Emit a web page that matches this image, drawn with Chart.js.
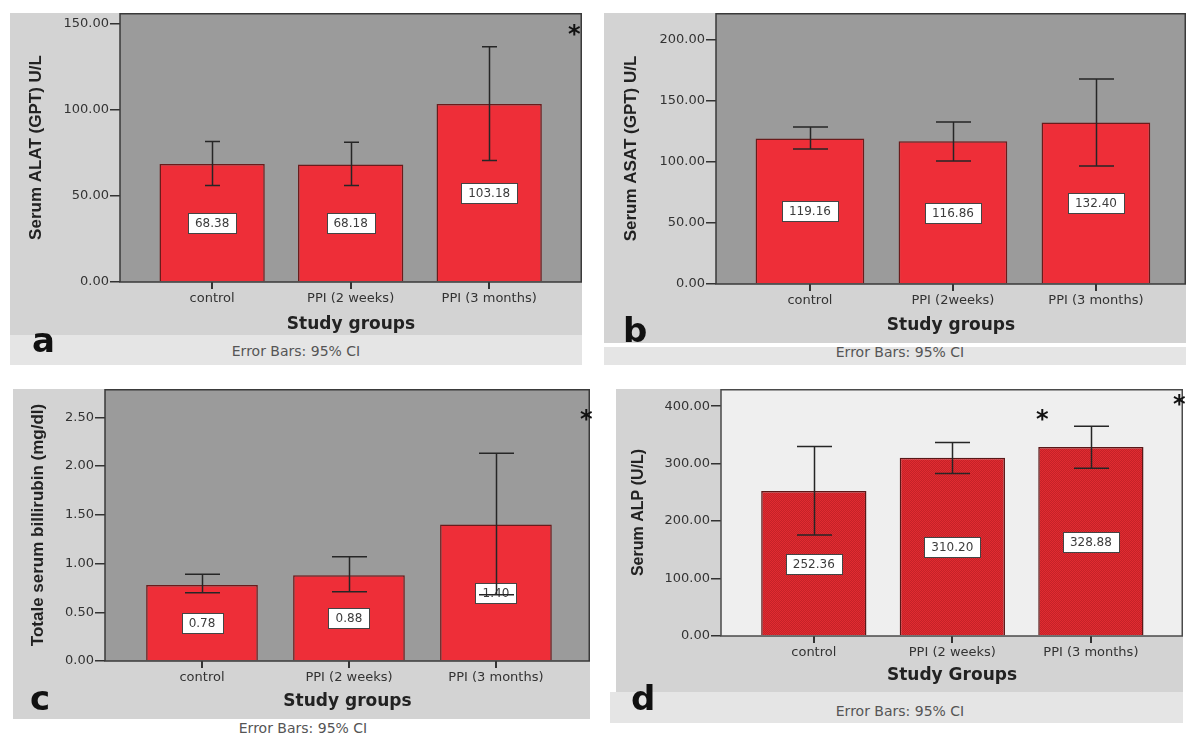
<!DOCTYPE html>
<html>
<head>
<meta charset="utf-8">
<script src="https://cdn.jsdelivr.net/npm/chart.js@4/dist/chart.umd.min.js"></script>
<style>
  body { margin: 0; background: #fff; width: 1186px; height: 735px; position: relative; overflow: hidden; font-family: 'DejaVu Sans', sans-serif; }
  .box { position: absolute; background: #d3d3d3; }
  .box canvas { position: absolute; left: 0; top: 0; }
  .strip { position: absolute; background: #e5e5e5; }
  .note { position: absolute; font-size: 14px; color: #555; transform: translate(-50%, -50%); white-space: nowrap; }
  .tag { position: absolute; font-size: 34px; line-height: 1; color: #111; font-weight: bold; }
  .star { position: absolute; font-size: 24px; line-height: 1; color: #111; font-weight: bold; }
</style>
</head>
<body>
<div class="box" style="left:10px;top:13px;width:572px;height:322px"><canvas id="chartA"></canvas></div>
<div class="strip" style="left:10px;top:335px;width:572px;height:30px"></div>
<div class="note" style="left:296px;top:351px">Error Bars: 95% CI</div>
<div class="tag" style="left:32px;top:323px">a</div>
<div class="star" style="left:568px;top:22px">*</div>

<div class="box" style="left:604px;top:13px;width:582px;height:330px"><canvas id="chartB"></canvas></div>
<div class="strip" style="left:604px;top:347px;width:582px;height:18px"></div>
<div class="note" style="left:900px;top:352px">Error Bars: 95% CI</div>
<div class="tag" style="left:623px;top:313px">b</div>

<div class="box" style="left:13px;top:389px;width:577px;height:330px"><canvas id="chartC"></canvas></div>
<div class="note" style="left:303px;top:728px">Error Bars: 95% CI</div>
<div class="tag" style="left:30px;top:681px">c</div>
<div class="star" style="left:580px;top:407px">*</div>

<div class="box" style="left:616px;top:389px;width:567px;height:303px"><canvas id="chartD"></canvas></div>
<div class="strip" style="left:610px;top:692px;width:573px;height:31px"></div>
<div class="note" style="left:900px;top:711px">Error Bars: 95% CI</div>
<div class="tag" style="left:631px;top:681px">d</div>
<div class="star" style="left:1036px;top:407px">*</div>
<div class="star" style="left:1173px;top:392px">*</div>

<script>
// groups
const groupsA = ['control', 'PPI (2 weeks)', 'PPI (3 months)'];
const groupsB = ['control', 'PPI (2weeks)', 'PPI (3 months)'];

// a: serum ALAT
const alatMean = [68.38, 68.18, 103.18];
const alatLow = [56.0, 56.0, 70.5];
const alatHigh = [81.5, 81.0, 136.5];
const alatTicks = [0, 50, 100, 150];

// b: serum ASAT
const asatMean = [119.16, 116.86, 132.40];
const asatLow = [110.6, 100.8, 96.7];
const asatHigh = [128.7, 132.8, 168.0];
const asatTicks = [0, 50, 100, 150, 200];

// c: total bilirubin
const biliMean = [0.78, 0.88, 1.40];
const biliLow = [0.70, 0.71, 0.68];
const biliHigh = [0.89, 1.07, 2.13];
const biliTicks = [0, 0.5, 1.0, 1.5, 2.0, 2.5];

// d: serum ALP
const alpMean = [252.36, 310.20, 328.88];
const alpLow = [176.0, 283.0, 292.0];
const alpHigh = [330.0, 337.0, 365.0];
const alpTicks = [0, 100, 200, 300, 400];

Chart.defaults.font.family = "'DejaVu Sans', sans-serif";

function dotPattern() {
  const c = document.createElement('canvas');
  c.width = 2; c.height = 2;
  const g = c.getContext('2d');
  g.fillStyle = '#e22b31';
  g.fillRect(0, 0, 2, 2);
  g.fillStyle = '#c42228';
  g.fillRect(0, 0, 1, 1);
  g.fillRect(1, 1, 1, 1);
  return g.createPattern(c, 'repeat');
}

// plot background, value boxes, CI whiskers and frame
const panelPlugin = {
  id: 'panel',
  beforeDatasetsDraw(chart, args, o) {
    const { ctx, chartArea: a } = chart;
    ctx.save();
    ctx.fillStyle = o.plotBg;
    ctx.fillRect(a.left, a.top, a.right - a.left, a.bottom - a.top);
    ctx.restore();
  },
  afterDatasetsDraw(chart, args, o) {
    const { ctx, chartArea: a, scales: { x, y } } = chart;
    ctx.save();
    ctx.font = "12px 'DejaVu Sans'";
    ctx.textAlign = 'center';
    ctx.textBaseline = 'middle';
    o.means.forEach((m, i) => {
      const txt = m.toFixed(2);
      const cx = x.getPixelForValue(i);
      const cy = y.getPixelForValue(m / 2);
      const w = Math.round(ctx.measureText(txt).width + 14), h = 20;
      const bx = Math.round(cx - w / 2) + 0.5, by = Math.round(cy - h / 2) + 0.5;
      ctx.fillStyle = '#fff';
      ctx.fillRect(bx, by, w, h);
      ctx.strokeStyle = '#444';
      ctx.lineWidth = 1;
      ctx.strokeRect(bx, by, w, h);
      ctx.fillStyle = '#3c3c3c';
      ctx.fillText(txt, cx, cy + 1);
    });

    ctx.strokeStyle = '#262626';
    ctx.lineWidth = 1.5;
    o.low.forEach((lo, i) => {
      const cx = Math.round(x.getPixelForValue(i)) + 0.5;
      const y1 = y.getPixelForValue(lo);
      const y2 = y.getPixelForValue(o.high[i]);
      const hw = o.cap / 2;
      ctx.beginPath();
      ctx.moveTo(cx, y1); ctx.lineTo(cx, y2);
      ctx.moveTo(cx - hw, y1); ctx.lineTo(cx + hw, y1);
      ctx.moveTo(cx - hw, y2); ctx.lineTo(cx + hw, y2);
      ctx.stroke();
    });

    ctx.strokeStyle = o.frame;
    ctx.lineWidth = 1.5;
    ctx.strokeRect(a.left, a.top + 0.75, a.right - a.left - 0.75, a.bottom - a.top - 0.75);
    ctx.restore();
  }
};

function makePanel(id, p) {
  const canvas = document.getElementById(id);
  const box = canvas.parentElement;
  canvas.width = box.clientWidth;
  canvas.height = box.clientHeight;
  return new Chart(canvas, {
    type: 'bar',
    data: {
      datasets: [{
        data: p.means.map((v, i) => ({ x: i, y: v })),
        backgroundColor: p.barColor,
        borderColor: p.barBorder,
        borderWidth: 1.5,
        barPercentage: 0.76,
        categoryPercentage: 1
      }]
    },
    options: {
      responsive: false,
      animation: false,
      events: [],
      layout: { padding: 0 },
      plugins: {
        legend: { display: false },
        tooltip: { enabled: false },
        panel: { plotBg: p.plotBg, frame: p.frame, means: p.means, low: p.low, high: p.high, cap: p.cap }
      },
      scales: {
        x: {
          type: 'linear',
          min: p.xMin,
          max: p.xMax,
          offset: false,
          afterBuildTicks: ax => { ax.ticks = p.groups.map((g, i) => ({ value: i })); },
          afterFit: ax => { ax.height = p.xHeight; ax.paddingLeft = 0; ax.paddingRight = 0; },
          ticks: { callback: v => p.groups[v], color: '#333', font: { size: 13 }, padding: 2, autoSkip: false, maxRotation: 0 },
          grid: { drawOnChartArea: false, offset: false, tickLength: 7, color: '#333', lineWidth: 2 },
          border: { display: false },
          title: { display: true, text: p.xTitle, color: '#222', font: { size: 17, weight: 'bold' }, padding: { top: 0, bottom: p.xTitlePad } }
        },
        y: {
          min: 0,
          max: p.yMax,
          afterBuildTicks: ax => { ax.ticks = p.ticks.map(v => ({ value: v })); },
          afterFit: ax => { ax.width = p.yWidth; ax.paddingTop = 0; ax.paddingBottom = 0; },
          ticks: { callback: v => v.toFixed(2), color: '#333', font: { size: 13 }, padding: 1 },
          grid: { drawOnChartArea: false, tickLength: 10, color: '#333', lineWidth: 1.5 },
          border: { display: false },
          title: { display: true, text: p.yTitle, color: '#222', font: { family: "'Liberation Sans', Arial, sans-serif", size: p.yTitleSize, weight: 'bold' }, padding: { top: p.yTitlePad, bottom: 0 } }
        }
      }
    },
    plugins: [panelPlugin]
  });
}

makePanel('chartA', {
  groups: groupsA, means: alatMean, low: alatLow, high: alatHigh, ticks: alatTicks,
  yMax: 156, xMin: -0.665, xMax: 2.67,
  yTitle: 'Serum ALAT (GPT) U/L', xTitle: 'Study groups',
  yWidth: 110, xHeight: 53, yTitlePad: 16, xTitlePad: 0, yTitleSize: 17,
  plotBg: '#9b9b9b', frame: '#3a3a3a', barColor: '#ee2e38', barBorder: '#6a1b1b', cap: 15
});

makePanel('chartB', {
  groups: groupsB, means: asatMean, low: asatLow, high: asatHigh, ticks: asatTicks,
  yMax: 222, xMin: -0.657, xMax: 2.63,
  yTitle: 'Serum ASAT (GPT) U/L', xTitle: 'Study groups',
  yWidth: 112, xHeight: 59, yTitlePad: 17, xTitlePad: 7, yTitleSize: 17,
  plotBg: '#9b9b9b', frame: '#3a3a3a', barColor: '#ee2e38', barBorder: '#6a1b1b', cap: 35
});

makePanel('chartC', {
  groups: groupsA, means: biliMean, low: biliLow, high: biliHigh, ticks: biliTicks,
  yMax: 2.79, xMin: -0.66, xMax: 2.64,
  yTitle: 'Totale serum billirubin (mg/dl)', xTitle: 'Study groups',
  yWidth: 92, xHeight: 58, yTitlePad: 15, xTitlePad: 7, yTitleSize: 17,
  plotBg: '#9b9b9b', frame: '#3a3a3a', barColor: '#ee2e38', barBorder: '#6a1b1b', cap: 35
});

makePanel('chartD', {
  groups: groupsA, means: alpMean, low: alpLow, high: alpHigh, ticks: alpTicks,
  yMax: 430, xMin: -0.67, xMax: 2.665,
  yTitle: 'Serum ALP (U/L)', xTitle: 'Study Groups',
  yWidth: 105, xHeight: 56, yTitlePad: 13, xTitlePad: 6, yTitleSize: 16,
  plotBg: '#efefef', frame: '#4a4a4a', barColor: dotPattern(), barBorder: '#5a1818', cap: 35
});
</script>
</body>
</html>
